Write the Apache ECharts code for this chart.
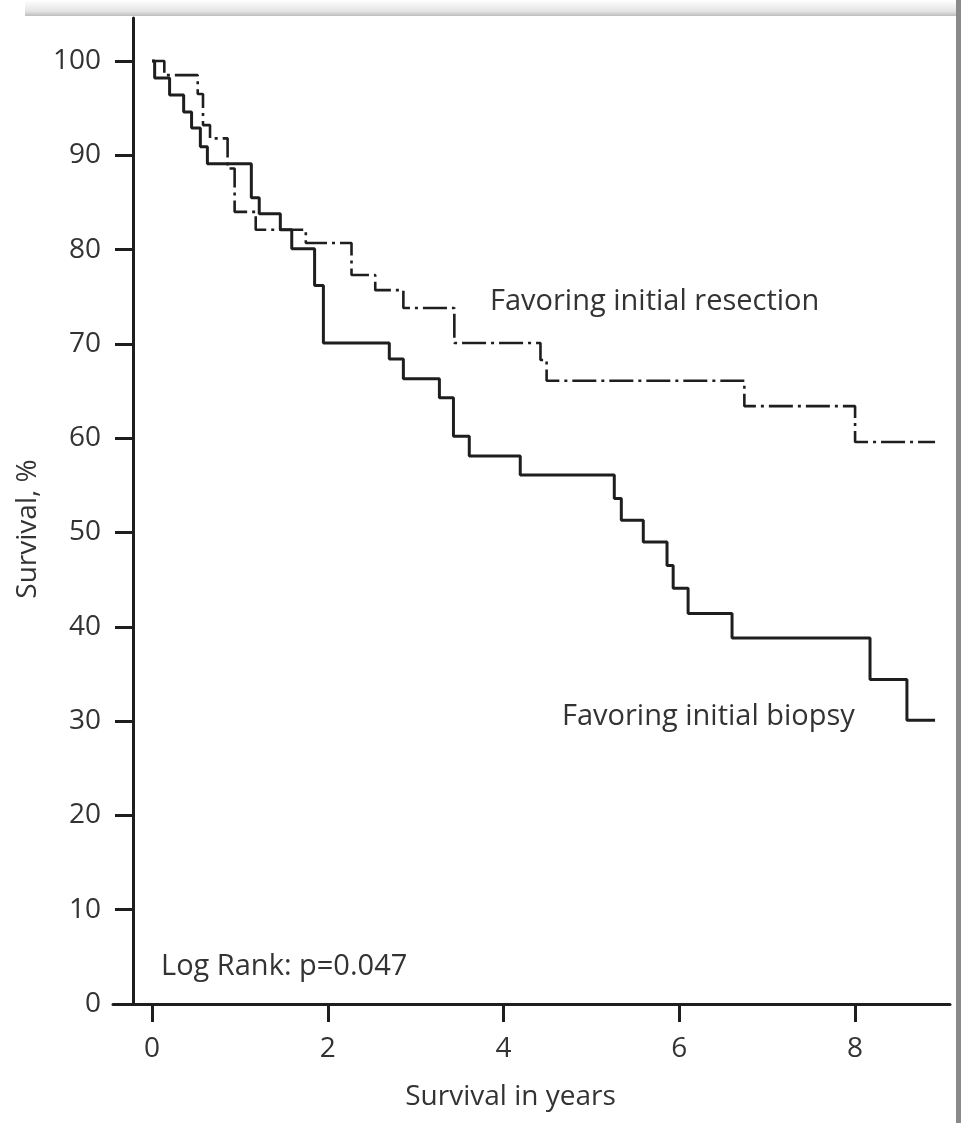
<!DOCTYPE html>
<html><head><meta charset="utf-8">
<script src="https://cdn.jsdelivr.net/npm/echarts@6/dist/echarts.min.js"></script>
<style>html,body{margin:0;padding:0;background:#fff}#c{width:961px;height:1133px}</style>
</head><body><div id="c"></div>
<script>
// Kaplan-Meier steps: value after each drop at the given time (years)
const biopsyTimes    = [0, 0.03, 0.2, 0.36, 0.45, 0.55, 0.63, 1.13, 1.22, 1.46, 1.59, 1.85, 1.95, 2.7, 2.86, 3.27, 3.43, 3.61, 4.19, 5.26, 5.34, 5.59, 5.86, 5.93, 6.1, 6.6, 8.17, 8.59, 8.91];
const biopsySurvival = [100, 98.2, 96.4, 94.6, 92.9, 90.9, 89.1, 85.5, 83.8, 82.1, 80.1, 76.2, 70.1, 68.4, 66.3, 64.3, 60.2, 58.1, 56.1, 53.6, 51.3, 49.0, 46.5, 44.1, 41.4, 38.8, 34.4, 30.1, 30.1];
const resectionTimes    = [0, 0.14, 0.52, 0.58, 0.66, 0.86, 0.94, 1.18, 1.75, 2.27, 2.54, 2.86, 3.44, 4.42, 4.49, 6.74, 8.0, 8.91];
const resectionSurvival = [100, 98.5, 96.5, 93.2, 91.8, 88.6, 84.0, 82.1, 80.7, 77.3, 75.7, 73.8, 70.1, 68.3, 66.1, 63.4, 59.6, 59.6];
const xTickValues = [0, 2, 4, 6, 8];
const yTickValues = [0, 10, 20, 30, 40, 50, 60, 70, 80, 90, 100];
const xAxisTitle = 'Survival in years';
const yAxisTitle = 'Survival, %';
const resectionLabel = 'Favoring initial resection';
const biopsyLabel = 'Favoring initial biopsy';
const statLabel = 'Log Rank: p=0.047';

const FONT = 'Open Sans';
const TXT = '#333';
const LINE = '#1e1e1e';
const zip = (a, b) => a.map((v, i) => [v, b[i]]);
const annFont = '29px "' + FONT + '"';

const chart = echarts.init(document.getElementById('c'), null, {renderer: 'canvas'});
chart.setOption({
  backgroundColor: '#fff',
  animation: false,
  grid: {left: 113, right: 11, top: 18, bottom: 129},
  xAxis: {
    type: 'value', min: -0.444, max: 9.08,
    name: xAxisTitle, nameLocation: 'middle', nameGap: 79,
    nameTextStyle: {fontFamily: FONT, fontSize: 28, color: TXT, padding: [0, 42, 0, 0]},
    axisLine: {show: true, lineStyle: {color: LINE, width: 3}},
    axisTick: {show: true, length: 18, lineStyle: {color: LINE, width: 3}, customValues: xTickValues},
    axisLabel: {customValues: xTickValues, margin: 31, fontFamily: FONT, fontSize: 28, color: TXT},
    splitLine: {show: false}
  },
  yAxis: {
    type: 'value', min: 0, max: 104.56, offset: -20,
    name: yAxisTitle, nameLocation: 'middle', nameGap: 91, nameRotate: 90,
    nameTextStyle: {fontFamily: FONT, fontSize: 28, color: TXT, padding: [0, 36, 0, 0]},
    axisLine: {show: true, onZero: false, lineStyle: {color: LINE, width: 3}},
    axisTick: {show: true, length: 18, lineStyle: {color: LINE, width: 3}, customValues: yTickValues},
    axisLabel: {customValues: yTickValues, margin: 32, fontFamily: FONT, fontSize: 28, color: TXT},
    splitLine: {show: false}
  },
  series: [
    {
      name: 'Favoring initial biopsy', type: 'line', step: 'end', showSymbol: false,
      data: zip(biopsyTimes, biopsySurvival),
      lineStyle: {color: LINE, width: 3}
    },
    {
      name: 'Favoring initial resection', type: 'line', step: 'end', showSymbol: false,
      data: zip(resectionTimes, resectionSurvival),
      lineStyle: {color: LINE, width: 2.6, type: [24, 5, 3, 5]}
    }
  ],
  graphic: [
    {type: 'rect', shape: {x: 25, y: 0, width: 936, height: 16},
     style: {fill: new echarts.graphic.LinearGradient(0, 0, 0, 1, [{offset: 0, color: '#ffffff'}, {offset: 0.7, color: '#e4e4e4'}, {offset: 1, color: '#bdbdbd'}])}, silent: true},
    {type: 'rect', shape: {x: 956, y: 0, width: 5, height: 1123}, style: {fill: '#8a8a8a'}, silent: true},
    {type: 'text', x: 490, y: 302, style: {text: resectionLabel, font: annFont, fill: TXT, verticalAlign: 'middle'}},
    {type: 'text', x: 562, y: 717, style: {text: biopsyLabel, font: annFont, fill: TXT, verticalAlign: 'middle'}},
    {type: 'text', x: 161, y: 967, style: {text: statLabel, font: annFont, fill: TXT, verticalAlign: 'middle'}}
  ]
});
</script>
</body></html>
